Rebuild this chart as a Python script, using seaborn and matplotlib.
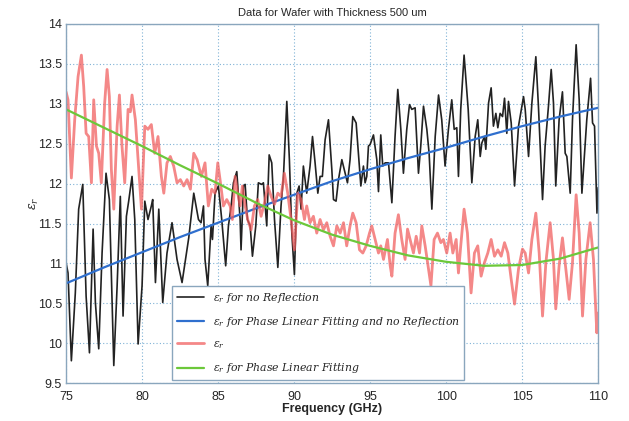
import matplotlib
matplotlib.use('Agg')
import matplotlib.pyplot as plt
import seaborn as sns

# eps_r for no reflection (black)
black_freq = [75.00, 75.13, 75.35, 75.61, 75.83, 76.10, 76.32, 76.54, 76.78, 76.93, 77.15, 77.37, 77.63, 77.85,
              78.14, 78.36, 78.57, 78.75, 78.97, 79.12, 79.34, 79.52, 79.74, 80.00, 80.18, 80.39, 80.61, 80.70,
              80.88, 81.10, 81.36, 81.64, 81.97, 82.30, 82.63, 83.07, 83.40, 83.71, 83.88, 84.04, 84.14, 84.32,
              84.54, 84.63, 84.80, 85.02, 85.24, 85.50, 85.68, 85.86, 86.01, 86.23, 86.45, 86.51, 86.67, 86.78,
              86.93, 87.11, 87.26, 87.48, 87.65, 87.87, 87.98, 88.20, 88.36, 88.53, 88.71, 88.93, 89.14, 89.30,
              89.52, 89.69, 89.85, 90.02, 90.18, 90.33, 90.46, 90.61, 90.83, 91.05, 91.21, 91.38, 91.56, 91.71,
              91.86, 92.04, 92.26, 92.48, 92.59, 92.76, 92.92, 93.14, 93.36, 93.51, 93.68, 93.86, 94.08, 94.23,
              94.39, 94.56, 94.67, 94.78, 94.89, 95.00, 95.22, 95.44, 95.55, 95.70, 95.83, 95.99, 96.21, 96.43,
              96.64, 96.82, 97.02, 97.19, 97.41, 97.59, 97.74, 97.96, 98.18, 98.33, 98.51, 98.73, 98.88, 99.06,
              99.28, 99.50, 99.71, 99.93, 100.15, 100.37, 100.53, 100.70, 100.81, 100.96, 101.18, 101.45,
              101.69, 101.91, 102.08, 102.24, 102.35, 102.52, 102.61, 102.79, 102.96, 103.11, 103.27, 103.40,
              103.55, 103.71, 103.84, 103.99, 104.10, 104.28, 104.50, 104.76, 105.09, 105.20, 105.42, 105.64,
              105.90, 106.07, 106.34, 106.51, 106.73, 106.91, 107.06, 107.21, 107.43, 107.65, 107.83, 107.94,
              108.16, 108.31, 108.55, 108.75, 108.93, 109.25, 109.50, 109.63, 109.76, 109.92, 110.00]
black_eps = [11.01, 10.88, 9.78, 10.63, 11.68, 11.99, 10.59, 9.88, 11.43, 10.51, 9.93, 11.13, 12.13, 11.80,
             9.72, 10.72, 11.84, 10.34, 11.59, 11.78, 12.09, 11.55, 9.99, 10.72, 11.78, 11.55, 11.72, 11.80,
             10.76, 11.68, 10.51, 11.13, 11.51, 11.05, 10.76, 11.32, 11.88, 11.55, 11.51, 11.72, 11.05, 10.72,
             11.47, 11.30, 11.88, 11.97, 11.55, 10.97, 11.47, 11.72, 12.01, 12.15, 11.55, 11.17, 11.97, 11.99,
             11.55, 11.47, 11.09, 11.47, 12.01, 11.99, 12.01, 11.47, 12.36, 12.26, 11.55, 10.95, 11.72, 12.09,
             13.03, 12.30, 11.38, 10.86, 11.88, 11.97, 11.68, 12.22, 11.88, 12.22, 12.59, 12.26, 11.88, 12.09,
             12.09, 12.55, 12.80, 12.18, 11.80, 11.78, 12.05, 12.30, 12.13, 12.01, 12.30, 12.84, 12.76, 12.38,
             11.97, 12.22, 12.01, 12.09, 12.47, 12.49, 12.61, 12.30, 11.90, 12.61, 12.22, 12.26, 12.26, 11.76,
             12.59, 13.18, 12.68, 12.13, 12.68, 12.99, 12.93, 12.95, 12.13, 12.47, 12.97, 12.68, 12.38, 11.68,
             12.59, 13.11, 12.80, 12.22, 12.68, 13.05, 12.68, 12.70, 12.09, 12.93, 13.61, 12.93,
             12.01, 12.59, 12.80, 12.34, 12.51, 12.59, 12.43, 13.01, 13.20, 12.72, 12.88, 12.70,
             12.88, 12.84, 13.07, 12.63, 13.03, 12.76, 11.97, 12.72, 13.09, 12.93, 12.34, 13.01,
             13.59, 12.97, 11.80, 12.47, 12.97, 13.43, 13.01, 11.97, 12.80, 13.15, 12.38, 12.34,
             11.88, 12.80, 13.74, 13.05, 11.88, 12.80, 13.32, 12.76, 12.72, 11.63, 11.95]

# eps_r (red)
red_freq = [75.00, 75.13, 75.35, 75.57, 75.79, 76.01, 76.16, 76.32, 76.49, 76.67, 76.82, 77.00, 77.15, 77.32,
            77.54, 77.70, 77.85, 77.98, 78.14, 78.36, 78.51, 78.68, 78.86, 79.08, 79.23, 79.34, 79.56, 79.74,
            79.96, 80.18, 80.39, 80.61, 80.83, 81.05, 81.27, 81.43, 81.64, 81.86, 82.08, 82.30, 82.52, 82.74,
            82.96, 83.18, 83.40, 83.62, 83.90, 84.14, 84.36, 84.58, 84.80, 84.98, 85.13, 85.35, 85.57, 85.79,
            85.94, 86.12, 86.29, 86.45, 86.60, 86.78, 86.95, 87.17, 87.39, 87.61, 87.83, 88.05, 88.27, 88.49,
            88.71, 88.93, 89.14, 89.36, 89.58, 89.80, 90.02, 90.24, 90.46, 90.68, 90.83, 91.05, 91.27, 91.49,
            91.71, 91.93, 92.15, 92.37, 92.59, 92.81, 93.03, 93.25, 93.46, 93.68, 93.86, 94.08, 94.30, 94.52,
            94.74, 94.96, 95.11, 95.33, 95.55, 95.70, 95.88, 96.14, 96.32, 96.43, 96.64, 96.86, 97.08, 97.30,
            97.46, 97.63, 97.85, 98.03, 98.25, 98.40, 98.62, 98.84, 99.00, 99.21, 99.43, 99.65, 99.82, 100.04,
            100.26, 100.44, 100.66, 100.81, 100.96, 101.18, 101.40, 101.64, 101.86, 102.08, 102.30, 102.52,
            102.74, 102.96, 103.18, 103.40, 103.62, 103.84, 104.06, 104.28, 104.50, 104.76, 105.02, 105.20,
            105.42, 105.64, 105.90, 106.12, 106.34, 106.56, 106.84, 107.06, 107.21, 107.43, 107.65, 107.87,
            108.09, 108.31, 108.55, 108.75, 108.97, 109.19, 109.47, 109.69, 109.91, 110.00]
red_eps = [13.15, 13.05, 12.07, 12.80, 13.34, 13.61, 13.22, 12.63, 12.59, 12.01, 13.05, 12.47, 12.38, 12.01,
           13.01, 13.43, 13.09, 12.18, 11.68, 12.72, 13.11, 12.47, 12.01, 12.93, 12.90, 13.11, 12.80, 12.30,
           11.68, 12.72, 12.68, 12.74, 12.38, 12.59, 12.09, 11.88, 12.26, 12.34, 12.22, 12.01, 12.05, 11.97,
           12.05, 11.93, 12.38, 12.30, 12.09, 12.26, 11.72, 11.93, 11.88, 12.26, 12.05, 11.72, 11.80, 11.72,
           11.55, 12.09, 11.88, 11.72, 11.97, 11.72, 11.55, 11.42, 11.72, 11.80, 11.59, 11.76, 11.97, 11.84,
           11.74, 11.88, 11.84, 12.13, 11.88, 11.55, 11.17, 11.88, 11.80, 11.55, 11.72, 11.51, 11.59, 11.38,
           11.55, 11.42, 11.51, 11.34, 11.22, 11.47, 11.38, 11.51, 11.22, 11.47, 11.63, 11.51, 11.17, 11.13,
           11.22, 11.38, 11.47, 11.30, 11.13, 11.22, 11.05, 11.30, 10.97, 10.84, 11.38, 11.61, 11.30, 11.05,
           11.43, 11.30, 11.13, 11.34, 11.13, 11.47, 11.22, 10.93, 10.72, 11.30, 11.38, 11.26, 11.30, 11.13,
           11.38, 11.13, 11.30, 10.88, 11.22, 11.68, 11.38, 10.63, 11.13, 11.22, 10.84, 11.01,
           11.13, 11.30, 11.09, 11.17, 11.09, 11.26, 11.13, 10.80, 10.49, 10.93, 11.18, 11.13,
           10.88, 11.30, 11.63, 11.13, 10.34, 11.01, 11.51, 11.05, 10.43, 10.97, 11.32, 10.93,
           10.55, 11.01, 11.86, 11.38, 10.34, 11.05, 11.51, 11.05, 10.13, 10.38]

# phase linear fitting and no reflection (blue)
fit_nr_freq = [75, 77.5, 80, 82.5, 85, 87.5, 90, 92.5, 95, 97.5, 100, 102.5, 105, 107.5, 110]
fit_nr_eps = [10.75, 10.95, 11.14, 11.33, 11.51, 11.69, 11.86, 12.03, 12.18, 12.32, 12.45, 12.59, 12.72, 12.84, 12.95]

# phase linear fitting (green)
fit_freq = [75, 77.5, 80, 82.5, 85, 87.5, 90, 92.5, 95, 97.5, 100, 102.5, 105, 107.5, 110]
fit_eps = [12.93, 12.70, 12.47, 12.23, 12.00, 11.76, 11.54, 11.36, 11.22, 11.10, 11.02, 10.97, 10.98, 11.06, 11.20]

sns.set_style('white')
plt.rcParams['font.family'] = ['Liberation Sans', 'DejaVu Sans']
plt.rcParams['mathtext.fontset'] = 'dejavuserif'

fig = plt.figure(figsize=(6.29, 4.21), dpi=100)
ax = fig.add_axes([0.105, 0.090, 0.846, 0.853])

sns.lineplot(x=black_freq, y=black_eps, ax=ax, color='#222222', lw=1.2, sort=False, estimator=None,
             label=r'$\varepsilon_r$ for no Reflection')
sns.lineplot(x=fit_nr_freq, y=fit_nr_eps, ax=ax, color='#2f6fce', lw=1.6, sort=False, estimator=None,
             label=r'$\varepsilon_r$ for Phase Linear Fitting and no Reflection')
sns.lineplot(x=red_freq, y=red_eps, ax=ax, color='#f05a5a', lw=2.0, alpha=0.72, sort=False, estimator=None,
             label=r'$\varepsilon_r$')
sns.lineplot(x=fit_freq, y=fit_eps, ax=ax, color='#6cc83a', lw=1.6, sort=False, estimator=None,
             label=r'$\varepsilon_r$ for Phase Linear Fitting')

ax.set_xlim(75, 110)
ax.set_ylim(9.5, 14)
ax.set_xticks([75, 80, 85, 90, 95, 100, 105, 110])
ax.set_yticks([9.5, 10, 10.5, 11, 11.5, 12, 12.5, 13, 13.5, 14])
ax.set_yticklabels(['9.5', '10', '10.5', '11', '11.5', '12', '12.5', '13', '13.5', '14'])
ax.grid(True, color='#7fb2d6', linestyle=(0, (1, 2)), lw=0.8)
for s in ax.spines.values():
    s.set_color('#8aa6bd')
    s.set_linewidth(1.0)
ax.tick_params(direction='in', length=2, color='#8aa6bd', labelsize=9)
ax.tick_params(axis='x', pad=6)
ax.tick_params(axis='y', pad=3)

ax.set_xlabel('Frequency (GHz)', fontsize=9, fontweight='bold', labelpad=0)
ax.set_ylabel(r'$\varepsilon_r$', fontsize=9)
ax.yaxis.set_label_coords(-0.047, 0.5)
ax.set_title('Data for Wafer with Thickness 500 um', fontsize=8, pad=6)

leg = ax.legend(loc='lower left', bbox_to_anchor=(0.199, 0.008), borderaxespad=0, fancybox=False,
                prop={'family': 'DejaVu Serif', 'style': 'italic', 'size': 7.8}, handlelength=2.5,
                labelspacing=0.95, borderpad=0.45, framealpha=1)
leg.get_frame().set_edgecolor('#8aa6bd')
leg.get_frame().set_linewidth(1.0)

fig.savefig('out.png', dpi=100)
